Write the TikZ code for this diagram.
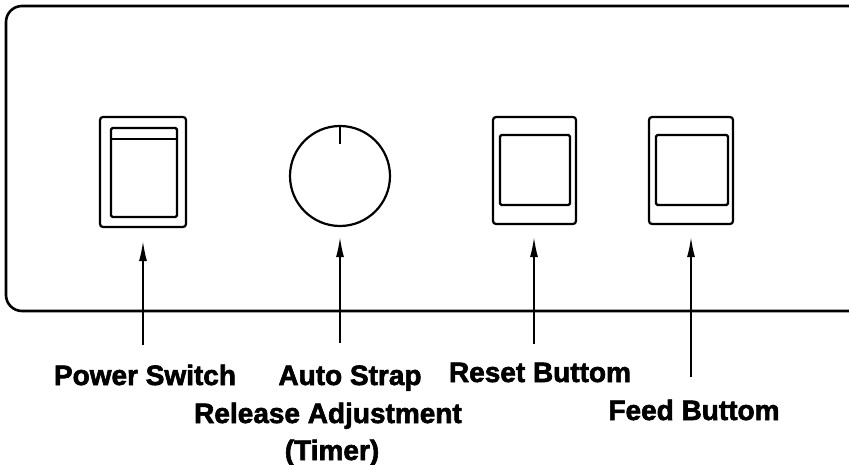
\documentclass[tikz,border=0pt]{standalone}
\usepackage{fontspec}
\setmainfont{Liberation Sans}
\newfontfamily\heavyfont{Liberation Sans}[BoldFeatures={FakeBold=2.2}]
\usetikzlibrary{arrows.meta}
\begin{document}
\begin{tikzpicture}[x=1pt,y=-1pt,
  panel/.style={line width=2.6pt},
  outerbox/.style={draw,line width=2.2pt,rounded corners=3pt,inner sep=0pt},
  innerbox/.style={draw,line width=2.2pt,rounded corners=1.5pt,inner sep=0pt},
  knob/.style={draw,circle,line width=2.2pt,inner sep=0pt},
  arr/.style={line width=1.6pt,-{Latex[length=20pt,width=8pt]}},
  lbl/.style={font=\heavyfont\bfseries\fontsize{28}{30}\selectfont,inner sep=0pt,anchor=base}]
\useasboundingbox (0,0) rectangle (849,465);
% panel
\draw[panel,rounded corners=16pt] (849,6) -- (6,6) -- (6,311) -- (849,311);
% power switch
\node[outerbox,minimum width=86pt,minimum height=110pt] (ps) at (143,172) {};
\node[innerbox,minimum width=66pt,minimum height=89pt] (psi) at (144,172.5) {};
\draw[line width=2pt] ([yshift=-12pt]psi.north west) -- ([yshift=-12pt]psi.north east);
% knob
\node[knob,minimum size=100pt] (kn) at (340,176) {};
\coordinate (kt) at (340,144);
\draw[line width=2pt] (kn.north) -- (kt);
% reset
\node[outerbox,minimum width=83pt,minimum height=107pt] (rb) at (534.5,170.5) {};
\node[innerbox,minimum width=70pt,minimum height=70pt] (rbi) at (535,170) {};
% feed
\node[outerbox,minimum width=84pt,minimum height=107pt] (fb) at (691,170.5) {};
\node[innerbox,minimum width=72pt,minimum height=70pt] (fbi) at (692,170) {};
% arrow tails
\coordinate (pst) at (143,345);
\coordinate (knt) at (340,343);
\coordinate (rbt) at (534,344);
\coordinate (fbt) at (691,377);
\draw[arr,shorten >=13pt] (pst) -- (pst |- ps.south);
\draw[arr,shorten >=10pt] (knt) -- (kn.south);
\draw[arr,shorten >=12pt] (rbt) -- (rbt |- rb.south);
\draw[arr,shorten >=12pt] (fbt) -- (fbt |- fb.south);
% labels
\node[lbl] (l1) at (145,385) {Power Switch};
\node[lbl] (l2) at (350,385) {Auto Strap};
\node[lbl] (l3) at (540,382) {Reset Buttom};
\node[lbl] (l4) at (328,423) {Release Adjustment};
\node[lbl] (l5) at (332,460) {(Timer)};
\node[lbl] (l6) at (694,420) {Feed Buttom};
\end{tikzpicture}
\end{document}
